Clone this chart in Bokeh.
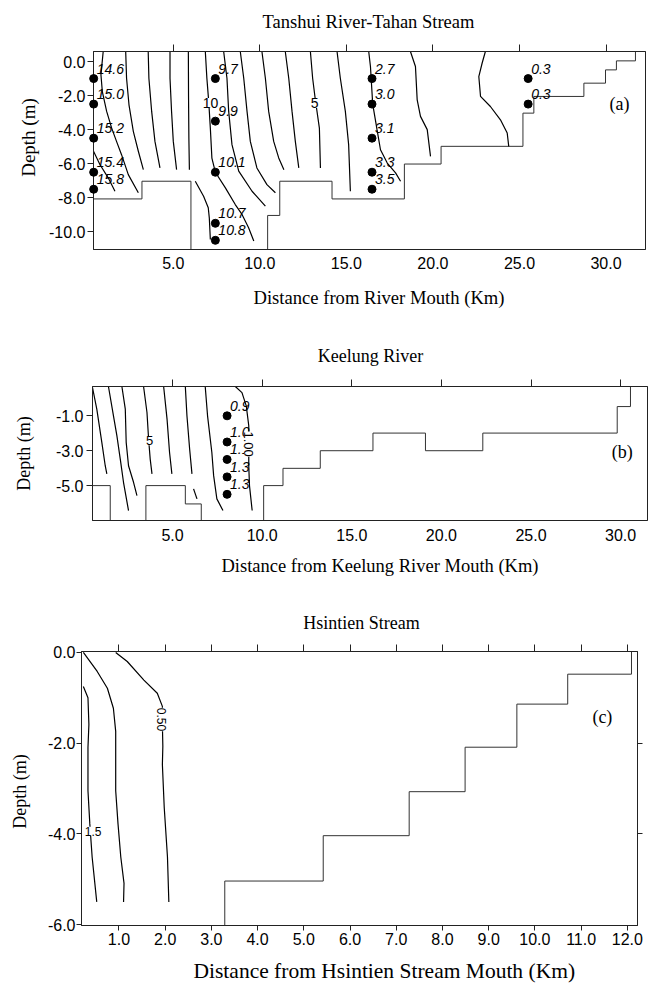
import math
from bokeh.plotting import figure
from bokeh.models import (LinearAxis, FixedTicker, NumeralTickFormatter, Range1d,
                          ColumnDataSource, LabelSet)
from bokeh.embed import file_html
from bokeh.resources import INLINE
from bokeh.core.properties import value

SERIF = "Liberation Serif"
SANS = "Liberation Sans"

# ---------------- Panel (a): Tanshui River - Tahan Stream ----------------
a_title = "Tanshui River-Tahan Stream"
a_xlabel = "Distance from River Mouth (Km)"
a_x_ticks = [5, 10, 15, 20, 25, 30]
a_y_ticks = [0, -2, -4, -6, -8, -10]

a_bed_km = [0.39, 3.19, 3.19, 6.02, 6.02, 10.45, 10.45, 11.15, 11.15, 14.17, 14.17,
            18.35, 18.35, 20.47, 20.47, 25.2, 25.2, 25.83, 25.83, 28.72, 28.72,
            29.97, 29.97, 30.6, 30.6, 31.7, 31.7]
a_bed_depth = [-8.07, -8.07, -7.03, -7.03, -11.04, -11.04, -9.04, -9.04, -7.03, -7.03, -8.07,
               -8.07, -6.02, -6.02, -4.98, -4.98, -3.03, -3.03, -2.05, -2.05, -1.27,
               -1.27, -0.49, -0.49, 0.04, 0.04, 0.59]

a_contour_km = [
    [0.95, 0.82, 0.90, 1.15, 1.44, 1.72, 2.01, 2.40, 2.98],
    [0.39, 0.76, 1.24, 1.63],
    [2.25, 2.30, 2.44, 2.69, 2.98, 3.27],
    [3.55, 3.59, 3.75, 3.94, 4.23],
    [4.81, 4.81, 4.90, 5.00, 5.19],
    [5.87, 5.88, 5.90, 5.93],
    [6.27, 6.75, 7.02, 7.08, 7.14],
    [6.85, 6.94, 7.05, 7.14, 7.23, 7.43, 8.01, 8.58, 8.97, 9.35, 9.65],
    [7.91, 8.10, 8.20, 8.39, 8.78, 9.55, 10.32],
    [8.87, 9.07, 9.26, 9.45, 9.83, 10.41, 10.90],
    [10.12, 10.32, 10.51, 10.80, 11.09, 11.39],
    [11.47, 11.67, 11.86, 12.05, 12.25],
    [12.92, 13.05, 13.20, 13.44, 13.50],
    [14.46, 14.65, 14.94, 15.13, 15.23],
    [16.29, 16.39, 16.52, 16.77, 16.97, 17.36, 17.84, 18.13],
    [18.70, 18.99, 19.09, 19.28, 19.67, 19.86],
    [23.03, 22.84, 22.65, 22.75, 23.32, 23.90, 24.29, 24.38],
]
a_contour_depth = [
    [0.59, -0.78, -1.76, -2.93, -3.91, -4.69, -5.47, -6.64, -7.71],
    [-5.27, -6.05, -6.83, -7.62],
    [0.59, -0.98, -2.54, -4.10, -5.27, -6.35],
    [0.59, -0.98, -2.93, -4.69, -6.25],
    [0.59, -0.98, -2.93, -4.69, -6.35],
    [0.59, -2.0, -4.5, -6.35],
    [-7.03, -7.91, -8.59, -9.18, -10.45],
    [0.59, -0.98, -2.40, -3.91, -5.67, -6.50, -7.42, -8.40, -8.98, -9.76, -10.54],
    [0.59, -0.98, -2.93, -4.88, -6.44, -7.62, -8.49],
    [0.59, -0.98, -2.93, -4.69, -6.25, -7.23, -7.71],
    [0.59, -0.98, -2.93, -4.69, -5.66, -6.35],
    [0.59, -0.98, -2.93, -4.69, -6.25],
    [0.59, -0.98, -2.20, -3.91, -6.25],
    [0.59, -0.98, -2.93, -4.88, -7.62],
    [0.59, -0.29, -2.50, -4.00, -5.18, -5.96, -6.54, -7.03],
    [0.59, -0.29, -2.25, -3.22, -4.00, -5.57],
    [0.59, -0.10, -0.88, -2.05, -2.64, -3.42, -4.20, -4.98],
]
a_clabel_text = ["10", "5"]
a_clabel_km = [7.15, 13.17]
a_clabel_depth = [-2.44, -2.44]
a_clabel_angle = [0.0, 0.0]

a_station_km = [0.4, 0.4, 0.4, 0.4, 0.4, 7.43, 7.43, 7.43, 7.43, 7.43,
                16.48, 16.48, 16.48, 16.48, 16.48, 25.5, 25.5]
a_station_depth = [-1.0, -2.5, -4.5, -6.5, -7.5, -1.0, -3.5, -6.5, -9.5, -10.5,
                   -1.0, -2.5, -4.5, -6.5, -7.5, -1.0, -2.5]
a_station_value = ["14.6", "15.0", "15.2", "15.4", "15.8", "9.7", "9.9", "10.1", "10.7", "10.8",
                   "2.7", "3.0", "3.1", "3.3", "3.5", "0.3", "0.3"]

# ---------------- Panel (b): Keelung River ----------------
b_title = "Keelung River"
b_xlabel = "Distance from Keelung River Mouth (Km)"
b_x_ticks = [5, 10, 15, 20, 25, 30]
b_y_ticks = [-1, -3, -5]

b_bed_km = [0.53, 1.52, 1.52, 3.51, 3.51, 5.71, 5.71, 6.6, 6.6, 10.08, 10.08, 11.16, 11.16,
            13.24, 13.24, 16.18, 16.18, 19.11, 19.11, 22.31, 22.31, 29.81, 29.81, 30.55, 30.55]
b_bed_depth = [-5.0, -5.0, -7.0, -7.0, -5.0, -5.0, -6.05, -6.05, -7.0, -7.0, -5.0, -5.0, -4.01,
               -4.01, -3.0, -3.0, -1.99, -1.99, -3.0, -3.0, -1.99, -1.99, -0.47, -0.47, 0.68]

b_contour_km = [
    [0.53, 0.77, 1.05, 1.24, 1.33],
    [1.42, 1.70, 1.89, 2.08, 2.26, 2.54],
    [2.17, 2.36, 2.41, 2.54, 2.82, 3.01],
    [3.38, 3.57, 3.66, 3.75, 3.85],
    [4.50, 4.69, 4.83, 4.96],
    [5.71, 5.80, 5.95, 6.08],
    [6.17, 6.36],
    [6.82, 6.95, 7.19, 7.29, 7.47, 7.81],
    [8.50, 8.87, 9.11, 9.25, 9.25, 9.29, 9.44],
]
b_contour_depth = [
    [0.62, -0.62, -2.52, -3.86, -4.33],
    [0.68, -1.0, -2.14, -3.48, -4.81, -6.43],
    [0.68, -0.62, -2.52, -3.86, -4.81, -5.57],
    [0.68, -0.81, -2.33, -3.48, -4.33],
    [0.68, -1.19, -3.10, -4.33],
    [0.68, -1.0, -2.90, -4.33],
    [-5.19, -5.76],
    [0.68, -1.0, -3.10, -4.43, -5.76, -6.43],
    [0.68, 0.33, -0.43, -1.57, -3.86, -5.0, -6.43],
]
b_clabel_text = ["5", "1.00"]
b_clabel_km = [3.72, 9.24]
b_clabel_depth = [-2.43, -2.62]
b_clabel_angle = [0.0, -math.pi / 2]

b_station_km = [8.04, 8.04, 8.04, 8.04, 8.04]
b_station_depth = [-1.0, -2.5, -3.5, -4.5, -5.5]
b_station_value = ["0.9", "1.0", "1.1", "1.3", "1.3"]

# ---------------- Panel (c): Hsintien Stream ----------------
c_title = "Hsintien Stream"
c_xlabel = "Distance from Hsintien Stream Mouth (Km)"
c_x_ticks = [1, 2, 3, 4, 5, 6, 7, 8, 9, 10, 11, 12]
c_y_ticks = [0, -2, -4, -6]

c_bed_km = [3.29, 3.29, 5.42, 5.42, 7.28, 7.28, 8.49, 8.49, 9.61, 9.61, 10.71, 10.71, 12.09, 12.09]
c_bed_depth = [-6.02, -5.04, -5.04, -4.04, -4.04, -3.07, -3.07, -2.09, -2.09, -1.14, -1.14,
               -0.48, -0.48, 0.02]

c_contour_km = [
    [0.23, 0.33, 0.35, 0.33, 0.33, 0.37, 0.42, 0.52],
    [0.23, 0.53, 0.75, 0.88, 0.93, 0.93, 0.93, 0.98, 1.04, 1.11, 1.10],
    [0.93, 1.18, 1.54, 1.83, 1.94, 1.94, 1.95, 1.94, 1.98, 2.05, 2.08],
]
c_contour_depth = [
    [-0.75, -1.0, -1.59, -2.10, -3.05, -3.78, -4.51, -5.50],
    [0.0, -0.42, -0.79, -1.23, -1.74, -2.32, -3.05, -3.78, -4.51, -5.09, -5.50],
    [0.0, -0.20, -0.61, -0.90, -1.19, -1.59, -2.07, -2.47, -3.42, -4.51, -5.50],
]
c_clabel_text = ["1.5", "0.50"]
c_clabel_km = [0.44, 1.93]
c_clabel_depth = [-3.94, -1.48]
c_clabel_angle = [0.0, -math.pi / 2]


def tick_only_axis(ticks, out):
    return LinearAxis(ticker=FixedTicker(ticks=ticks), major_label_text_font_size="1px",
                      major_label_text_color=None, major_tick_out=out, major_tick_in=0,
                      minor_tick_out=0, minor_tick_in=0, major_label_standoff=0,
                      axis_line_color="#222222", major_tick_line_color="#222222")


def caption(p, text, x, y, dx, dy, size, align="center", angle=0.0):
    # free text at a pixel offset (dx right, dy up) from a corner of the plotting frame;
    # drawn as an overlay-level text glyph so it is not clipped to the frame
    p.text(x=[x], y=[y], text=[text], x_offset=dx, y_offset=-dy, angle=angle,
           text_font=value(SERIF), text_font_size=size, text_font_style="normal",
           text_align=align, text_baseline="middle", text_color="black",
           level="overlay")


def make_panel(xr, yr, xticks, yticks, height, borders,
               bed_x, bed_y, cx, cy, lab_x, lab_y, lab_t, lab_a, lab_size,
               st_x=None, st_y=None, st_t=None,
               x_tick_out=0, x_standoff=7, y_tick_out=6, y_standoff=2,
               right_ticks=None):
    p = figure(width=650, height=height, x_range=Range1d(*xr), y_range=Range1d(*yr),
               output_backend="svg", toolbar_location=None,
               min_border_left=borders[0], min_border_right=borders[1],
               min_border_top=borders[2], min_border_bottom=borders[3])
    p.xgrid.visible = False
    p.ygrid.visible = False
    p.outline_line_color = "#222222"
    p.outline_line_width = 1
    p.background_fill_color = "white"
    p.border_fill_color = "white"

    xa = p.xaxis[0]
    xa.ticker = FixedTicker(ticks=xticks)
    xa.formatter = NumeralTickFormatter(format="0.0")
    xa.major_tick_out = x_tick_out
    xa.major_tick_in = 0
    xa.minor_tick_out = 0
    xa.minor_tick_in = 0
    xa.major_label_standoff = x_standoff
    xa.major_label_text_font = SANS
    xa.major_label_text_font_size = "16px"
    xa.major_label_text_color = "black"
    xa.axis_line_color = "#222222"
    xa.major_tick_line_color = "#222222"

    ya = p.yaxis[0]
    ya.ticker = FixedTicker(ticks=yticks)
    ya.formatter = NumeralTickFormatter(format="0.0")
    ya.major_tick_out = y_tick_out
    ya.major_tick_in = 0
    ya.minor_tick_out = 0
    ya.minor_tick_in = 0
    ya.major_label_standoff = y_standoff
    ya.major_label_text_font = SANS
    ya.major_label_text_font_size = "16px"
    ya.major_label_text_color = "black"
    ya.axis_line_color = "#222222"
    ya.major_tick_line_color = "#222222"

    p.add_layout(tick_only_axis(xticks, 7), "above")
    if right_ticks is not None:
        p.add_layout(tick_only_axis(right_ticks, 5), "right")

    # bottom bed profile
    p.line(bed_x, bed_y, line_color="#333333", line_width=1)
    # isolines
    p.multi_line(xs=cx, ys=cy, line_color="black", line_width=1.2)
    # contour labels
    src = ColumnDataSource(dict(x=lab_x, y=lab_y, t=lab_t, a=lab_a))
    p.add_layout(LabelSet(x="x", y="y", text="t", angle="a", source=src,
                          text_font=value(SANS), text_font_size=lab_size,
                          text_align="center", text_baseline="middle", text_color="black",
                          background_fill_color="white"))
    # stations
    if st_x is not None:
        p.scatter(st_x, st_y, size=8, color="black", level="overlay")
        p.text(st_x, st_y, text=st_t, x_offset=3, y_offset=-10,
               text_font=value(SANS), text_font_style="italic", text_font_size="14px",
               text_align="left", text_baseline="middle", text_color="black")
    return p


# ----- (a) -----
a_xr, a_yr = (0.39, 32.28), (-11.04, 0.59)
pa = make_panel(a_xr, a_yr, a_x_ticks, a_y_ticks, 320, (93, 5, 51, 71),
                a_bed_km, a_bed_depth, a_contour_km, a_contour_depth,
                a_clabel_km, a_clabel_depth, a_clabel_text, a_clabel_angle, "14px",
                a_station_km, a_station_depth, a_station_value)
caption(pa, a_title, a_xr[0], a_yr[1], 275, 30, "18.5px")
caption(pa, a_xlabel, a_xr[0], a_yr[0], 160, -48, "18.6px", align="left")
caption(pa, "Depth (m)", a_xr[0], a_yr[0], -65, 112, "19px", angle=math.pi / 2)
caption(pa, "(a)", 30.78, -2.5, 0, 0, "18px")

# ----- (b) -----
b_xr, b_yr = (0.53, 31.5), (-7.0, 0.68)
pb = make_panel(b_xr, b_yr, b_x_ticks, b_y_ticks, 270, (92, 3, 66, 70),
                b_bed_km, b_bed_depth, b_contour_km, b_contour_depth,
                b_clabel_km, b_clabel_depth, b_clabel_text, b_clabel_angle, "13px",
                b_station_km, b_station_depth, b_station_value,
                x_standoff=8, y_standoff=3)
caption(pb, b_title, b_xr[0], b_yr[1], 278, 31, "18px")
caption(pb, b_xlabel, b_xr[0], b_yr[0], 129, -45, "18.5px", align="left")
caption(pb, "Depth (m)", b_xr[0], b_yr[0], -69, 67, "18px", angle=math.pi / 2)
caption(pb, "(b)", 30.09, -3.1, 0, 0, "18px")

# ----- (c) -----
c_xr, c_yr = (0.19, 12.22), (-6.02, 0.02)
pc = make_panel(c_xr, c_yr, c_x_ticks, c_y_ticks, 394, (81, 13, 61, 59),
                c_bed_km, c_bed_depth, c_contour_km, c_contour_depth,
                c_clabel_km, c_clabel_depth, c_clabel_text, c_clabel_angle, "12px",
                x_tick_out=5, x_standoff=2, y_tick_out=5, y_standoff=1,
                right_ticks=[-2, -4])
caption(pc, c_title, c_xr[0], c_yr[1], 280, 29, "18px")
caption(pc, c_xlabel, c_xr[0], c_yr[0], 112, -45, "21.5px", align="left")
caption(pc, "Depth (m)", c_xr[0], c_yr[0], -62, 134, "18px", angle=math.pi / 2)
caption(pc, "(c)", 11.46, -1.43, 0, 0, "18px")

open("out.html", "w").write(file_html([pa, pb, pc], INLINE))
